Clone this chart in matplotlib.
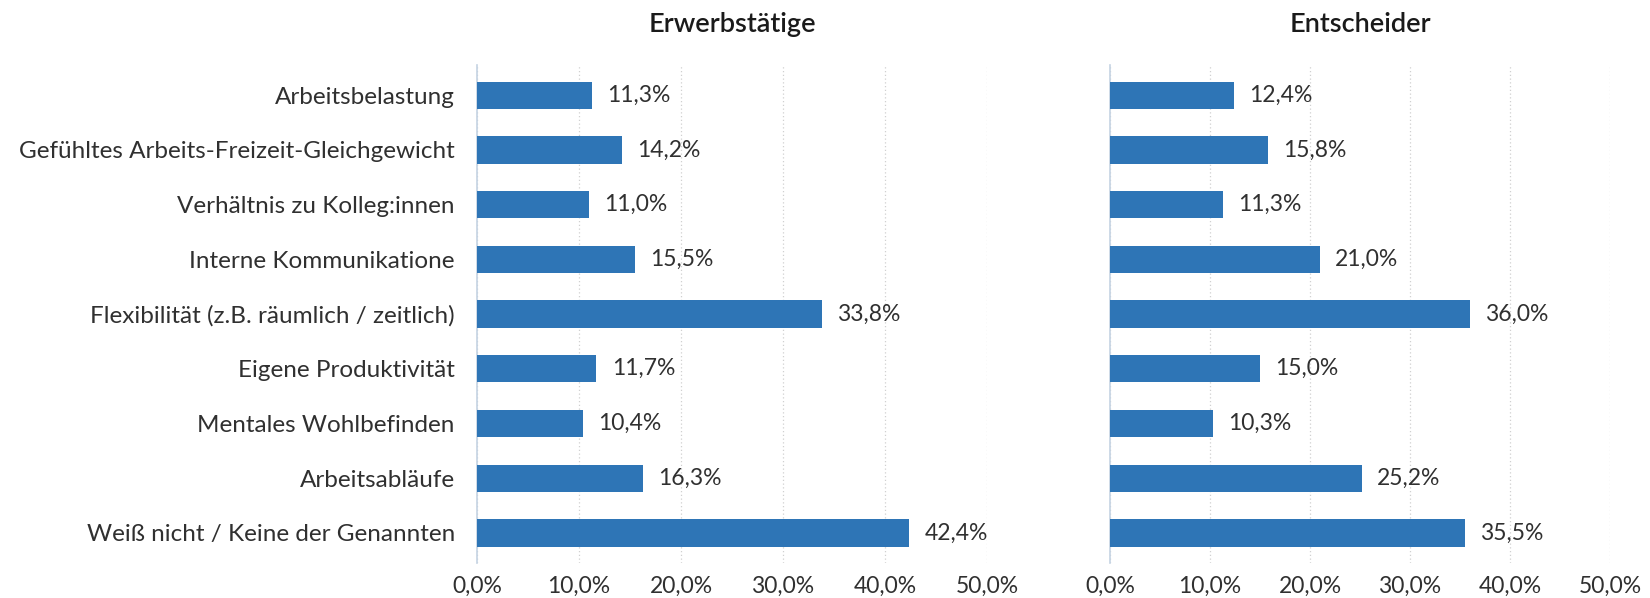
import matplotlib
matplotlib.use("Agg")
import matplotlib.pyplot as plt

plt.rcParams['font.family'] = ['Lato', 'DejaVu Sans']

categories = [
    "Arbeitsbelastung",
    "Gefühltes Arbeits-Freizeit-Gleichgewicht",
    "Verhältnis zu Kolleg:innen",
    "Interne Kommunikatione",
    "Flexibilität (z.B. räumlich / zeitlich)",
    "Eigene Produktivität",
    "Mentales Wohlbefinden",
    "Arbeitsabläufe",
    "Weiß nicht / Keine der Genannten",
]
erwerbstaetige = [11.3, 14.2, 11.0, 15.5, 33.8, 11.7, 10.4, 16.3, 42.4]
entscheider = [12.4, 15.8, 11.3, 21.0, 36.0, 15.0, 10.3, 25.2, 35.5]
titles = ["Erwerbstätige", "Entscheider"]
xticks = [0, 10, 20, 30, 40, 50]

BAR = "#2E75B6"
TXT = "#303030"


def fmt(v):
    return f"{v:.1f}%".replace(".", ",")


fig = plt.figure(figsize=(16.5, 5.98), dpi=100)
ax1 = fig.add_axes([477 / 1650, 0.0585, 510 / 1650, 0.8325])
ax2 = fig.add_axes([1110 / 1650, 0.0585, 500 / 1650, 0.8325])

for ax, vals, title in [(ax1, erwerbstaetige, titles[0]), (ax2, entscheider, titles[1])]:
    ypos = range(len(categories))
    ax.barh(ypos, vals, height=0.5, color=BAR, zorder=3)
    for y, v in zip(ypos, vals):
        ax.text(v + 1.5, y, fmt(v), va="center", ha="left", fontsize=16.5,
                color=TXT)
    ax.set_xlim(0, 50)
    ax.set_ylim(8.55, -0.55)
    ax.set_xticks(xticks)
    ax.set_xticklabels([fmt(t) for t in xticks], fontsize=16.5, color=TXT)
    ax.grid(axis="x", color="#d0d0d0", linestyle=(0, (1, 2)), linewidth=0.9, zorder=0)
    for s in ["top", "right", "bottom"]:
        ax.spines[s].set_visible(False)
    ax.spines["left"].set_color("#c5d3e3")
    ax.spines["left"].set_linewidth(1.2)
    ax.tick_params(axis="both", length=0, pad=9)
    ax.set_title(title, fontsize=19.5, fontweight="semibold", color="#1a1a1a", pad=24)

ax1.set_yticks(range(len(categories)))
ax1.set_yticklabels(categories, fontsize=17.5, color=TXT)
ax1.tick_params(axis="y", pad=16)
ax2.set_yticks([])

fig.savefig("out.png", dpi=100, facecolor="white")
